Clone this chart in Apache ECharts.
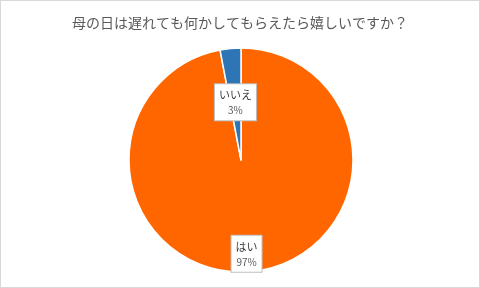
<!DOCTYPE html>
<html>
<head>
<meta charset="utf-8">
<script src="https://cdn.jsdelivr.net/npm/echarts@6/dist/echarts.min.js"></script>
<style>
  html, body { margin: 0; padding: 0; background: #fff; }
  #main { width: 480px; height: 288px; box-sizing: border-box; border: 1px solid #d9d9d9; }
</style>
</head>
<body>
<div id="main"></div>
<script>
const titleText = "母の日は遅れても何かしてもらえたら嬉しいですか？";
const categories = ["はい", "いいえ"];
const values = [97, 3];
const colors = ["#ff6600", "#2e75b6"];

const chart = echarts.init(document.getElementById("main"));
const font = "'Noto Sans CJK JP', 'Noto Sans', sans-serif";

chart.setOption({
  animation: false,
  title: {
    text: titleText,
    left: "center",
    top: 10,
    textStyle: { fontFamily: font, fontSize: 14, fontWeight: "normal", color: "#595959" }
  },
  series: [
    {
      type: "pie",
      center: [240, 159],
      radius: 112,
      startAngle: 90,
      clockwise: true,
      data: categories.map((c, i) => ({
        name: c,
        value: values[i],
        itemStyle: { color: colors[i] }
      })),
      itemStyle: { borderColor: "#fff", borderWidth: 1.5 },
      label: {
        show: true,
        position: "inside",
        formatter: "{n|{b}}\n{p|{d}%}",
        backgroundColor: "#fff",
        borderColor: "#bfbfbf",
        borderWidth: 1,
        padding: [3, 4, 3, 4],
        rich: {
          n: { fontFamily: font, fontSize: 11, color: "#404040", lineHeight: 16, align: "center" },
          p: { fontFamily: font, fontSize: 10, color: "#595959", lineHeight: 14, align: "center" }
        }
      },
      labelLine: { show: false },
      labelLayout: function (params) {
        return params.dataIndex === 0 ? { dx: 0, dy: 35 } : { dx: 0, dy: 1 };
      }
    }
  ]
});

window.addEventListener("resize", chart.resize);
</script>
</body>
</html>
